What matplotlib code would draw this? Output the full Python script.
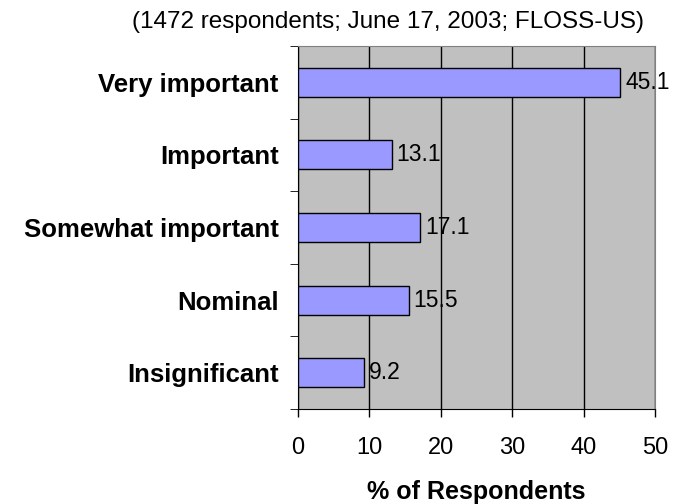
import matplotlib
matplotlib.use("Agg")
import matplotlib.pyplot as plt

categories = ["Very important", "Important", "Somewhat important", "Nominal", "Insignificant"]
values = [45.1, 13.1, 17.1, 15.5, 9.2]
xticks = [0, 10, 20, 30, 40, 50]

plt.rcParams['font.family'] = ['Liberation Sans', 'DejaVu Sans']

fig = plt.figure(figsize=(6.74, 5.04), dpi=100)
ax = fig.add_axes([298/674, 1 - 409/504, (655 - 298)/674, (409 - 46)/504])
ax.set_facecolor("#C0C0C0")

n = len(categories)
ypos = list(range(n - 1, -1, -1))
ax.barh(ypos, values, height=0.4, color="#9999FF", edgecolor="black", linewidth=1, zorder=3)
for y, v in zip(ypos, values):
    ax.text(v + 0.7, y, f"{v}", va="center", ha="left", fontsize=16.5, zorder=4)

ax.set_xlim(0, 50)
ax.set_ylim(-0.5, n - 0.5)
ax.set_xticks(xticks)
ax.set_xticklabels([str(t) for t in xticks], fontsize=17)
ax.xaxis.grid(True, color="black", linewidth=1, zorder=1)
ax.set_axisbelow(True)

ax.set_yticks(ypos)
ax.set_yticklabels(categories, fontsize=18.5, fontweight="bold")
ax.tick_params(axis="y", length=0, pad=14)
ax.set_yticks([i - 0.5 for i in range(n + 1)], minor=True)
ax.tick_params(axis="y", which="minor", length=6, direction="out")
ax.tick_params(axis="x", length=6, direction="out", pad=14, width=1)

for side in ["top", "right"]:
    ax.spines[side].set_color("#808080")
ax.spines["left"].set_color("black")
ax.spines["bottom"].set_color("black")

ax.set_xlabel("% of Respondents", fontsize=18, fontweight="bold", labelpad=15)
fig.text(388/674, 1 - 22/504, "(1472 respondents; June 17, 2003; FLOSS-US)",
         ha="center", va="center", fontsize=17.5)

fig.savefig("out.png", dpi=100)
